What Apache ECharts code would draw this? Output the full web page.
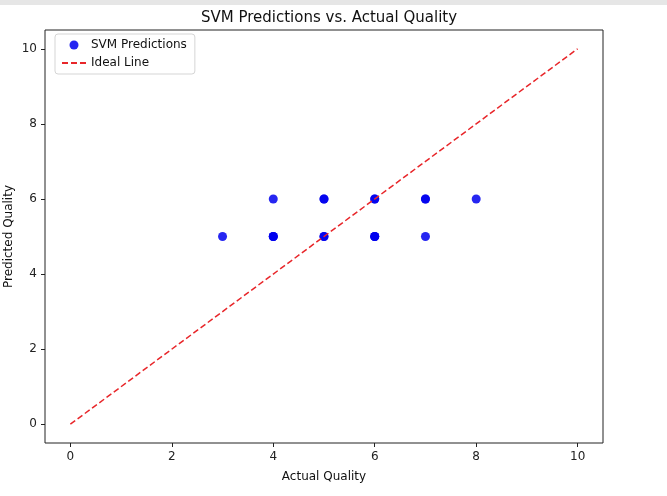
<!DOCTYPE html>
<html>
<head>
<meta charset="utf-8">
<script src="https://cdn.jsdelivr.net/npm/echarts@6/dist/echarts.min.js"></script>
<style>
  html, body { margin: 0; padding: 0; background: #fff; }
  #chart { width: 667px; height: 496px; }
</style>
</head>
<body>
<div id="chart"></div>
<script>
// actual vs predicted quality (duplicates make the dots look heavier)
var actualQuality    = [3, 4, 4, 4, 4, 5, 5, 5, 5, 6, 6, 6, 6, 6, 7, 7, 7, 8];
var predictedQuality = [5, 6, 5, 5, 5, 6, 6, 5, 5, 6, 6, 5, 5, 5, 6, 6, 5, 6];
var idealLine = [[0, 0], [10, 10]];
var tickValues = [0, 2, 4, 6, 8, 10];

var points = [];
for (var i = 0; i < actualQuality.length; i++) {
    points.push([actualQuality[i], predictedQuality[i]]);
}

var chart = echarts.init(document.getElementById('chart'));
var textFont = 'DejaVu Sans';

var option = {
    animation: false,
    textStyle: { fontFamily: textFont },
    title: {
        text: 'SVM Predictions vs. Actual Quality',
        left: 324,
        textAlign: 'center',
        top: 6,
        textStyle: { fontSize: 15, fontWeight: 'normal', color: '#111', fontFamily: textFont }
    },
    graphic: [{
        type: 'rect',
        shape: { x: 0, y: 0, width: 667, height: 5 },
        style: { fill: '#e6e6e6' }
    }],
    legend: {
        orient: 'vertical',
        left: 55,
        top: 34,
        padding: [5, 8, 5, 6],
        itemGap: 6,
        itemWidth: 24,
        itemHeight: 9,
        borderColor: '#d5d5d5',
        borderWidth: 1,
        borderRadius: 3,
        textStyle: { fontSize: 12, color: '#111', fontFamily: textFont },
        data: [
            { name: 'SVM Predictions', icon: 'circle' },
            { name: 'Ideal Line', itemStyle: { opacity: 0 } }
        ]
    },
    grid: {
        left: 45, right: 64, top: 30, bottom: 53,
        outerBoundsMode: 'none',
        show: true, borderColor: '#222', borderWidth: 1, backgroundColor: '#fff'
    },
    xAxis: {
        type: 'value',
        min: -0.5,
        max: 10.5,
        name: 'Actual Quality',
        nameLocation: 'middle',
        nameGap: 28,
        nameMoveOverlap: false,
        nameTextStyle: { fontSize: 12, color: '#111' },
        axisLine: { show: false, onZero: false },
        splitLine: { show: false },
        axisLabel: {
            fontSize: 12, color: '#222', margin: 8,
            customValues: tickValues,
            formatter: function (v) { return v; }
        },
        axisTick: { show: true, length: 4, customValues: tickValues, lineStyle: { color: '#222' } }
    },
    yAxis: {
        type: 'value',
        min: -0.5,
        max: 10.5,
        name: 'Predicted Quality',
        nameLocation: 'middle',
        nameGap: 30,
        nameMoveOverlap: false,
        nameTextStyle: { fontSize: 12, color: '#111' },
        axisLine: { show: false, onZero: false },
        splitLine: { show: false },
        axisLabel: {
            fontSize: 12, color: '#222', margin: 8,
            customValues: tickValues,
            formatter: function (v) { return v; }
        },
        axisTick: { show: true, length: 4, customValues: tickValues, lineStyle: { color: '#222' } }
    },
    series: [{
        name: 'SVM Predictions',
        type: 'scatter',
        symbol: 'circle',
        symbolSize: 9,
        itemStyle: { color: '#0000ee', opacity: 0.85 },
        data: points
    }, {
        name: 'Ideal Line',
        type: 'line',
        symbol: 'none',
        lineStyle: { color: '#e8262a', width: 1.5, type: [6, 3] },
        itemStyle: { color: '#e8262a' },
        data: idealLine
    }]
};
chart.setOption(option);
</script>
</body>
</html>
